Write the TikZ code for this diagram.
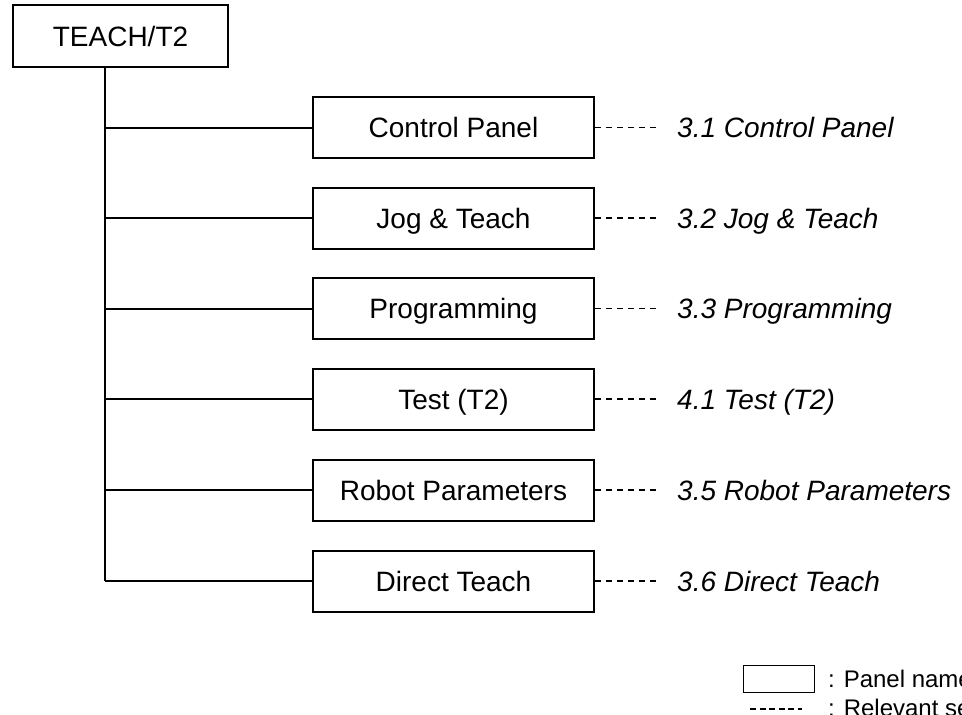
\documentclass[tikz,border=0pt]{standalone}
\usepackage{fontspec}
\setmainfont{Liberation Sans}
\usepackage{tikz}
\usetikzlibrary{positioning,calc}

\tikzset{
panelbox/.style={draw, line width=2pt, minimum width=281pt, minimum height=61pt, inner sep=0pt,
  font=\fontsize{28}{33}\selectfont, text height=20pt, text depth=0pt},
seclabel/.style={anchor=west, inner sep=0pt, font=\fontsize{28}{33}\selectfont\itshape,
  text height=20pt, text depth=0pt},
tree/.style={line width=2pt},
seclink/.style={line width=1.2pt, dash pattern=on 6pt off 5pt},
legendtext/.style={anchor=west, inner sep=0pt, font=\fontsize{24}{28}\selectfont,
  text height=17pt, text depth=0pt}
}

\begin{document}
\begin{tikzpicture}[x=1pt, y=-1pt]
\useasboundingbox (0,0) rectangle (962,715);

\node[panelbox, minimum width=215pt, minimum height=62pt] (teach) at (120.5,36) {TEACH/T2};
\coordinate (bus) at (105,0);

\node[panelbox] (cp) at (453.5,127.5) {Control Panel};
\node[panelbox] (jog) at (453.5,218) {Jog \& Teach};
\node[panelbox] (prog) at (453.5,308.5) {Programming};
\node[panelbox] (test) at (453.5,399) {Test (T2)};
\node[panelbox] (robot) at (453.5,490) {Robot Parameters};
\node[panelbox] (direct) at (453.5,581) {Direct Teach};

\draw[tree] (bus |- teach.south) -- (bus |- direct.west);
\draw[tree] (bus |- cp.west) -- (cp.west);
\draw[tree] (bus |- jog.west) -- (jog.west);
\draw[tree] (bus |- prog.west) -- (prog.west);
\draw[tree] (bus |- test.west) -- (test.west);
\draw[tree] (bus |- robot.west) -- (robot.west);
\draw[tree] (bus |- direct.west) -- (direct.west);

\node[seclabel] (s-cp) at (677,127.5) {3.1 Control Panel};
\node[seclabel] (s-jog) at (677,218) {3.2 Jog \& Teach};
\node[seclabel] (s-prog) at (677,308.5) {3.3 Programming};
\node[seclabel] (s-test) at (677,399) {4.1 Test (T2)};
\node[seclabel] (s-robot) at (677,490) {3.5 Robot Parameters};
\node[seclabel] (s-direct) at (677,581) {3.6 Direct Teach};

\draw[seclink] (cp.east) -- ([xshift=-20pt]s-cp.west);
\draw[seclink] (jog.east) -- ([xshift=-20pt]s-jog.west);
\draw[seclink] (prog.east) -- ([xshift=-20pt]s-prog.west);
\draw[seclink] (test.east) -- ([xshift=-20pt]s-test.west);
\draw[seclink] (robot.east) -- ([xshift=-20pt]s-robot.west);
\draw[seclink] (direct.east) -- ([xshift=-20pt]s-direct.west);

% legend
\node[draw, line width=1pt, minimum width=71pt, minimum height=27pt, inner sep=0pt] (key-box) at (778.5,678.5) {};
\node[legendtext] (key-panel) at (828,678.5) {: Panel name};
\coordinate (key-a) at (750,709);
\coordinate (key-b) at (802,709);
\draw[seclink, dash pattern=on 6pt off 3.6pt] (key-a) -- (key-b);
\node[legendtext] (key-sec) at (828,708) {: Relevant section};
\end{tikzpicture}
\end{document}
